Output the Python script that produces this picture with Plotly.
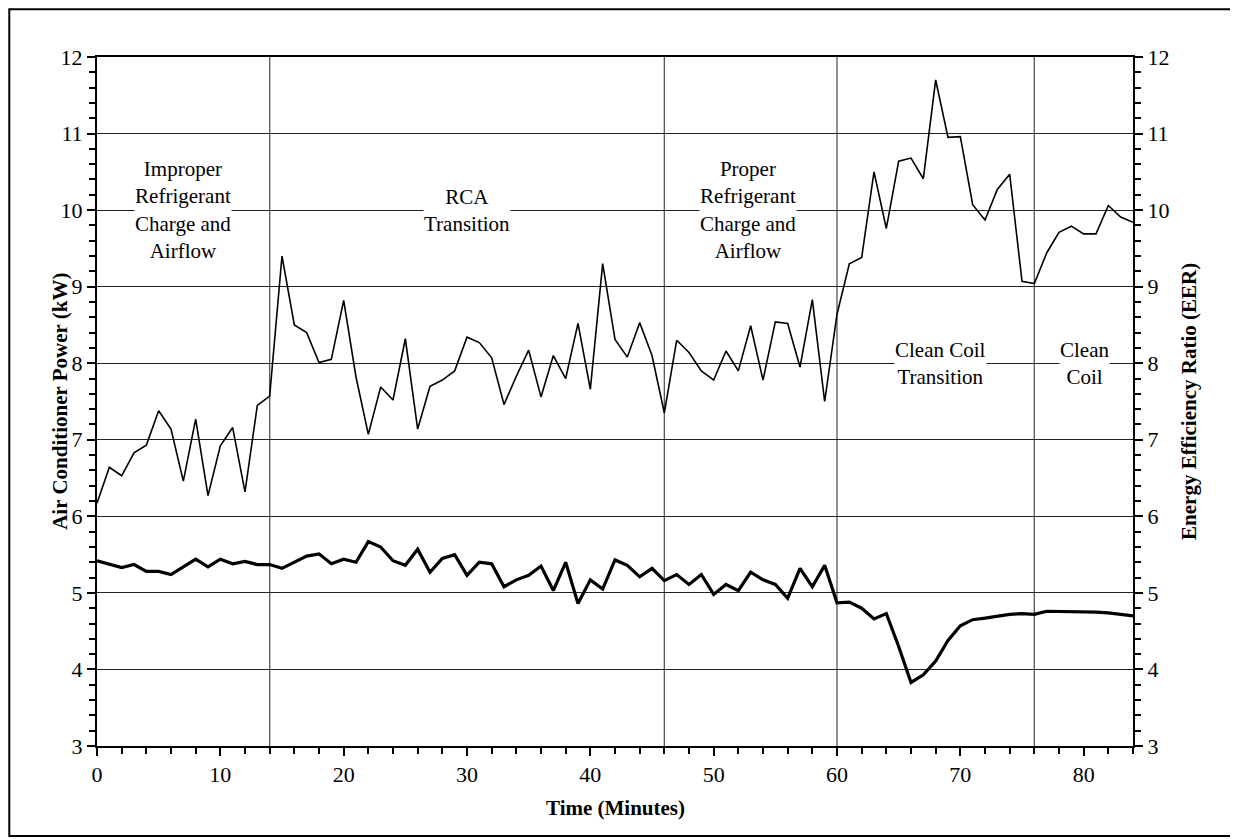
import plotly.graph_objects as go

minutes = list(range(0, 85))

eer = [6.17, 6.64, 6.53, 6.83, 6.93, 7.38, 7.14, 6.46, 7.27, 6.27,
       6.92, 7.16, 6.32, 7.45, 7.57, 9.40, 8.50, 8.40, 8.01, 8.05,
       8.82, 7.82, 7.07, 7.69, 7.52, 8.32, 7.14, 7.70, 7.78, 7.90,
       8.34, 8.27, 8.07, 7.46, 7.83, 8.17, 7.56, 8.10, 7.80, 8.52,
       7.66, 9.30, 8.31, 8.08, 8.53, 8.10, 7.35, 8.30, 8.14, 7.90,
       7.78, 8.16, 7.90, 8.49, 7.78, 8.54, 8.52, 7.95, 8.83, 7.50,
       8.64, 9.30, 9.38, 10.50, 9.76, 10.64, 10.68, 10.41, 11.70, 10.95,
       10.96, 10.07, 9.87, 10.27, 10.47, 9.07, 9.04, 9.44, 9.71, 9.79,
       9.69, 9.69, 10.06, 9.91, 9.84]

power = [5.42, 5.38, 5.33, 5.37, 5.28, 5.28, 5.24, 5.34, 5.44, 5.34,
         5.44, 5.38, 5.41, 5.37, 5.37, 5.32, 5.40, 5.48, 5.51, 5.38,
         5.44, 5.40, 5.67, 5.60, 5.42, 5.36, 5.57, 5.27, 5.45, 5.50,
         5.23, 5.40, 5.38, 5.08, 5.17, 5.23, 5.35, 5.03, 5.40, 4.86,
         5.17, 5.05, 5.43, 5.36, 5.21, 5.32, 5.16, 5.24, 5.11, 5.24,
         4.98, 5.11, 5.03, 5.27, 5.17, 5.11, 4.93, 5.32, 5.08, 5.36,
         4.87, 4.88, 4.80, 4.66, 4.73, 4.30, 3.83, 3.93, 4.11, 4.38,
         4.57, 4.65, 4.67, 4.70, 4.72, 4.73, 4.72, 4.76, 4.76, 4.76,
         4.75, 4.75, 4.74, 4.72, 4.70]

phase_bounds = [14, 46, 60, 76]
phase_labels = ["Improper<br>Refrigerant<br>Charge and<br>Airflow",
                "RCA<br>Transition",
                "Proper<br>Refrigerant<br>Charge and<br>Airflow",
                "Clean Coil<br>Transition",
                "Clean<br>Coil"]
phase_label_x = [7, 30, 52.8, 68.4, 80.1]
phase_label_y = [10, 10, 10, 8, 8]

FONT = "Liberation Serif, Times New Roman, serif"

# plot area in reference pixel coordinates
PL, PR, PT, PB = 96.7, 1132.6, 56.7, 746.0
W, H = PR - PL, PB - PT
OFF = 8  # page body margin


def px(x):
    return (x - PL) / W


def py(y):
    return (PB - y) / H


fig = go.Figure()
fig.add_trace(go.Scatter(x=minutes, y=power, mode="lines",
                         line=dict(color="black", width=3.2),
                         name="Air Conditioner Power (kW)", yaxis="y"))
fig.add_trace(go.Scatter(x=minutes, y=eer, mode="lines",
                         line=dict(color="black", width=1.6),
                         name="Energy Efficiency Ratio (EER)", yaxis="y2"))

for b in phase_bounds:
    fig.add_shape(type="line", xref="x", yref="paper", x0=b, x1=b, y0=0, y1=1,
                  line=dict(color="#555", width=1.3), layer="below")

for txt, lx, ly in zip(phase_labels, phase_label_x, phase_label_y):
    fig.add_annotation(x=lx, y=ly, xref="x", yref="y", text=txt, showarrow=False,
                       font=dict(family=FONT, size=21, color="black"),
                       bgcolor="white", borderpad=0, xanchor="center", yanchor="middle")

# outer frame
fig.add_shape(type="rect", xref="paper", yref="paper",
              x0=px(9), x1=px(1232), y0=py(836), y1=py(OFF + 1),
              line=dict(color="black", width=2), layer="below")

fig.add_annotation(xref="paper", yref="paper", x=px(45), y=0.5,
                   text="<b>Air Conditioner Power (kW)</b>", textangle=-90, showarrow=False,
                   font=dict(family=FONT, size=21, color="black"))
fig.add_annotation(xref="paper", yref="paper", x=px(1202), y=0.5,
                   text="<b>Energy Efficiency Ratio (EER)</b>", textangle=-90, showarrow=False,
                   font=dict(family=FONT, size=21, color="black"))
fig.add_annotation(xref="paper", yref="paper", x=0.5, y=py(822),
                   text="<b>Time (Minutes)</b>", showarrow=False,
                   font=dict(family=FONT, size=21, color="black"))

tickfont = dict(family=FONT, size=22, color="black")
fig.update_layout(
    width=1238, height=839,
    margin=dict(l=PL - OFF, r=1238 - (PR - OFF), t=PT - OFF, b=839 - (PB - OFF)),
    paper_bgcolor="white", plot_bgcolor="white",
    showlegend=False,
    xaxis=dict(range=[0, 84], dtick=10, tick0=0, showgrid=False, zeroline=False,
               showline=True, linecolor="black", linewidth=2, mirror=True,
               ticks="outside", ticklen=8, tickwidth=2, tickcolor="black",
               minor=dict(dtick=2, ticks="outside", ticklen=6, tickwidth=2, tickcolor="black", showgrid=False),
               tickfont=tickfont),
    yaxis=dict(range=[3, 12], dtick=1, tick0=3, showgrid=True, gridcolor="#222", gridwidth=1,
               zeroline=False, showline=True, linecolor="black", linewidth=2,
               ticks="outside", ticklen=8, tickwidth=2, tickcolor="black",
               minor=dict(dtick=0.2, ticks="outside", ticklen=6, tickwidth=2, tickcolor="black", showgrid=False),
               tickfont=tickfont),
    yaxis2=dict(range=[3, 12], dtick=1, tick0=3, overlaying="y", side="right", showgrid=False,
                zeroline=False, showline=True, linecolor="black", linewidth=2,
                ticks="outside", ticklen=8, tickwidth=2, tickcolor="black",
                minor=dict(dtick=0.2, ticks="outside", ticklen=6, tickwidth=2, tickcolor="black", showgrid=False),
                tickfont=tickfont),
)

fig.write_html("out.html")
